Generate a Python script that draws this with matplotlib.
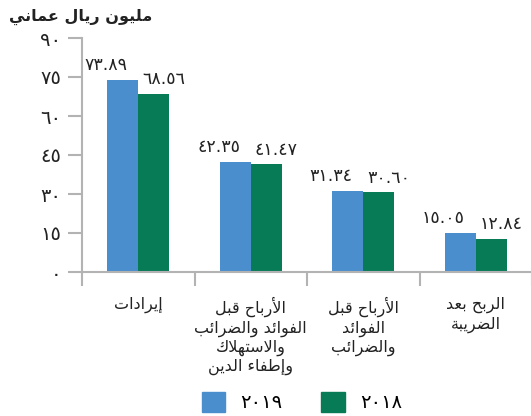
import matplotlib
matplotlib.use("Agg")
import matplotlib.pyplot as plt
import numpy as np
from matplotlib.patches import Patch

# ---------------- data ----------------
categories = [
    "إيرادات",
    "الأرباح قبل\nالفوائد والضرائب\nوالاستهلاك\nوإطفاء الدين",
    "الأرباح قبل\nالفوائد\nوالضرائب",
    "الربح بعد\nالضريبة",
]
values_2019 = [73.89, 42.35, 31.34, 15.05]
values_2018 = [68.56, 41.47, 30.60, 12.84]
series_names = ["٢٠١٩", "٢٠١٨"]
y_ticks = [0, 15, 30, 45, 60, 75, 90]
title = "مليون ريال عماني"

BLUE = "#4a8ecd"
GREEN = "#077a56"
GRAY = "#b3b3b3"
TXT = "#222222"

# ---------------- minimal Arabic shaping ----------------
DUAL = {
    "ئ": (0xFE89, 0xFE8A, 0xFE8B, 0xFE8C), "ب": (0xFE8F, 0xFE90, 0xFE91, 0xFE92),
    "ت": (0xFE95, 0xFE96, 0xFE97, 0xFE98), "ث": (0xFE99, 0xFE9A, 0xFE9B, 0xFE9C),
    "ج": (0xFE9D, 0xFE9E, 0xFE9F, 0xFEA0), "ح": (0xFEA1, 0xFEA2, 0xFEA3, 0xFEA4),
    "خ": (0xFEA5, 0xFEA6, 0xFEA7, 0xFEA8), "س": (0xFEB1, 0xFEB2, 0xFEB3, 0xFEB4),
    "ش": (0xFEB5, 0xFEB6, 0xFEB7, 0xFEB8), "ص": (0xFEB9, 0xFEBA, 0xFEBB, 0xFEBC),
    "ض": (0xFEBD, 0xFEBE, 0xFEBF, 0xFEC0), "ط": (0xFEC1, 0xFEC2, 0xFEC3, 0xFEC4),
    "ظ": (0xFEC5, 0xFEC6, 0xFEC7, 0xFEC8), "ع": (0xFEC9, 0xFECA, 0xFECB, 0xFECC),
    "غ": (0xFECD, 0xFECE, 0xFECF, 0xFED0), "ف": (0xFED1, 0xFED2, 0xFED3, 0xFED4),
    "ق": (0xFED5, 0xFED6, 0xFED7, 0xFED8), "ك": (0xFED9, 0xFEDA, 0xFEDB, 0xFEDC),
    "ل": (0xFEDD, 0xFEDE, 0xFEDF, 0xFEE0), "م": (0xFEE1, 0xFEE2, 0xFEE3, 0xFEE4),
    "ن": (0xFEE5, 0xFEE6, 0xFEE7, 0xFEE8), "ه": (0xFEE9, 0xFEEA, 0xFEEB, 0xFEEC),
    "ي": (0xFEF1, 0xFEF2, 0xFEF3, 0xFEF4),
}
RIGHT = {
    "آ": (0xFE81, 0xFE82), "أ": (0xFE83, 0xFE84), "ؤ": (0xFE85, 0xFE86),
    "إ": (0xFE87, 0xFE88), "ا": (0xFE8D, 0xFE8E), "ة": (0xFE93, 0xFE94),
    "د": (0xFEA9, 0xFEAA), "ذ": (0xFEAB, 0xFEAC), "ر": (0xFEAD, 0xFEAE),
    "ز": (0xFEAF, 0xFEB0), "و": (0xFEED, 0xFEEE), "ى": (0xFEEF, 0xFEF0),
}
NONJOIN = {"ء": 0xFE80}
LAMALEF = {"آ": (0xFEF5, 0xFEF6), "أ": (0xFEF7, 0xFEF8),
           "إ": (0xFEF9, 0xFEFA), "ا": (0xFEFB, 0xFEFC)}


def is_letter(c):
    return c in DUAL or c in RIGHT or c in NONJOIN


def shape_line(s):
    out = []
    prev_joins = False
    i = 0
    while i < len(s):
        c = s[i]
        nxt = s[i + 1] if i + 1 < len(s) else ""
        if c == "ل" and nxt in LAMALEF:
            iso, fin = LAMALEF[nxt]
            out.append(chr(fin if prev_joins else iso))
            prev_joins = False
            i += 2
            continue
        if c in DUAL:
            iso, fin, ini, med = DUAL[c]
            nj = is_letter(nxt)
            if prev_joins and nj:
                out.append(chr(med))
            elif prev_joins:
                out.append(chr(fin))
            elif nj:
                out.append(chr(ini))
            else:
                out.append(chr(iso))
            prev_joins = True
        elif c in RIGHT:
            iso, fin = RIGHT[c]
            out.append(chr(fin if prev_joins else iso))
            prev_joins = False
        elif c in NONJOIN:
            out.append(chr(NONJOIN[c]))
            prev_joins = False
        else:
            out.append(c)
            prev_joins = False
        i += 1
    return "".join(reversed(out))


def ar(s):
    return "\n".join(shape_line(line) for line in s.split("\n"))


def ar_num(v, fmt="{:.2f}"):
    digits = "٠١٢٣٤٥٦٧٨٩"
    s = fmt.format(v) if not isinstance(v, str) else v
    return "".join(digits[int(ch)] if ch.isdigit() else ch for ch in s)


plt.rcParams["font.family"] = ["DejaVu Sans"]

# ---------------- figure ----------------
W, H = 531, 416
fig = plt.figure(figsize=(W / 100, H / 100), dpi=100)
ax = fig.add_axes([82 / W, 144 / H, 450 / W, 234 / H])

x = np.arange(len(categories))
bw = 0.275
b1 = ax.bar(x - bw / 2, values_2019, bw, color=BLUE, zorder=2)
b2 = ax.bar(x + bw / 2, values_2018, bw, color=GREEN, zorder=2)

for xi, v in zip(x, values_2019):
    ax.annotate(ar_num(v), (xi - bw / 2, v), xytext=(-12, 4), textcoords="offset points",
                ha="center", va="bottom", fontsize=12.5, color=TXT)
for xi, v in zip(x, values_2018):
    ax.annotate(ar_num(v), (xi + bw / 2, v), xytext=(7, 4), textcoords="offset points",
                ha="center", va="bottom", fontsize=12.5, color=TXT)

ax.set_xlim(-0.5, len(categories) - 0.5)
ax.set_ylim(0, 90)
ax.set_yticks(y_ticks)
ax.set_yticklabels([ar_num(t, "{:d}") for t in y_ticks], fontsize=14, color=TXT)

ax.set_xticks(np.arange(len(categories) + 1) - 0.5)
ax.set_xticklabels([])
ax.set_xticks(x, minor=True)
ax.set_xticklabels([ar(c) for c in categories], minor=True, fontsize=11.5,
                   color=TXT, linespacing=1.25, va="top")
ax.tick_params(axis="x", which="major", length=10, width=1.5, color=GRAY)
ax.tick_params(axis="x", which="minor", length=0, pad=18)
ax.tick_params(axis="y", length=10, width=1.5, color=GRAY, pad=5)

for sp in ["top", "right"]:
    ax.spines[sp].set_visible(False)
for sp in ["left", "bottom"]:
    ax.spines[sp].set_color(GRAY)
    ax.spines[sp].set_linewidth(1.5)

fig.text(9 / W, 1 - 17 / H, ar(title), ha="left", va="center",
         fontsize=11.5, fontweight="bold", color=TXT)

handles = [Patch(color=BLUE), Patch(color=GREEN)]
fig.legend(handles, series_names, loc="center", bbox_to_anchor=(302 / W, 1 - 402 / H),
           ncol=2, frameon=False, fontsize=14, handlelength=1.2, handleheight=1.2,
           columnspacing=2.0, handletextpad=0.8)

fig.savefig("out.png", dpi=100)
